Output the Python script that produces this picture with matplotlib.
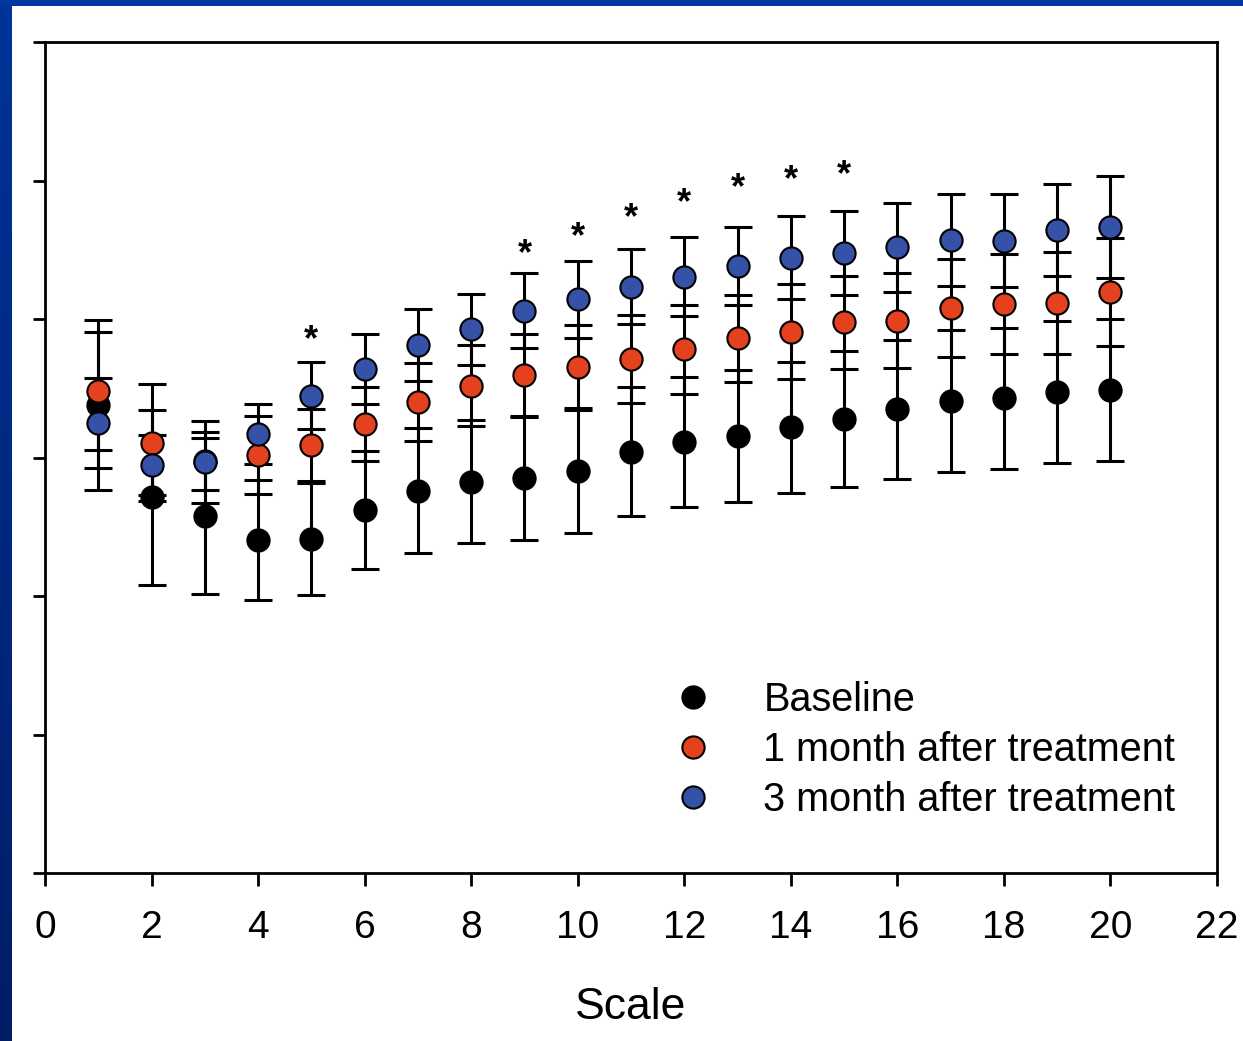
import numpy as np
import matplotlib
matplotlib.use('Agg')
import matplotlib.pyplot as plt
from matplotlib.lines import Line2D

plt.rcParams['font.family'] = ['Liberation Sans', 'DejaVu Sans']

# scale points and group means / SD
scale = np.arange(1, 21)
baseline = [33.79, 27.13, 25.78, 24.04, 24.12, 26.21, 27.60, 28.25, 28.50, 29.05,
            30.42, 31.14, 31.55, 32.17, 32.76, 33.48, 34.10, 34.27, 34.71, 34.87]
baseline_err = [6.14, 6.33, 5.63, 4.33, 4.04, 4.28, 4.51, 4.45, 4.45, 4.52,
                4.64, 4.69, 4.74, 4.75, 4.91, 5.03, 5.13, 5.10, 5.13, 5.10]
month1 = [34.80, 31.07, 29.75, 30.18, 30.90, 32.42, 33.99, 35.18, 35.96, 36.51,
          37.11, 37.81, 38.61, 39.08, 39.76, 39.88, 40.77, 41.08, 41.18, 41.93]
month1_err = [4.26, 4.24, 2.11, 2.82, 2.58, 2.69, 2.82, 2.94, 2.94, 3.05,
              3.18, 3.20, 3.13, 3.44, 3.36, 3.42, 3.54, 3.59, 3.68, 3.90]
month3 = [32.47, 29.46, 29.68, 31.70, 34.46, 36.39, 38.12, 39.26, 40.60, 41.42,
          42.33, 43.05, 43.83, 44.43, 44.79, 45.18, 45.70, 45.65, 46.43, 46.66]
month3_err = [3.25, 2.17, 2.98, 2.17, 2.41, 2.51, 2.60, 2.55, 2.70, 2.79,
              2.72, 2.84, 2.84, 3.01, 3.03, 3.22, 3.30, 3.35, 3.32, 3.68]

# significance marks
sig_x = [5, 9, 10, 11, 12, 13, 14, 15]
sig_y = [38.84, 45.05, 46.28, 47.65, 48.74, 49.82, 50.40, 50.76]

labels = ['Baseline', '1 month after treatment', '3 month after treatment']
colors = ['black', '#e4421e', '#3552a8']

fig = plt.figure(figsize=(12.43, 10.41), dpi=100)
fig.patch.set_facecolor('white')

# slide border: gradient strip on the left, solid strip on top
side = fig.add_axes([0, 0, 12 / 1243, 1])
grad = np.linspace(0, 1, 256).reshape(-1, 1)
side.imshow(grad, aspect='auto', cmap=matplotlib.colors.LinearSegmentedColormap.from_list(
    'side', ['#003399', '#001d66']), extent=[0, 1, 0, 1])
side.axis('off')
top = fig.add_axes([0, 1 - 6 / 1041, 1, 6 / 1041])
top.set_facecolor('#0036a0')
top.set_xticks([])
top.set_yticks([])
for s in top.spines.values():
    s.set_visible(False)

ax = fig.add_axes([45 / 1243, 168 / 1041, 1172 / 1243, 831 / 1041])

series = [(baseline, baseline_err), (month1, month1_err), (month3, month3_err)]
for mean, err in series:
    ax.errorbar(scale, mean, yerr=err, fmt='none', ecolor='black', elinewidth=2.2,
                capsize=10, capthick=2.2, zorder=2)
for (mean, err), c in zip(series, colors):
    ax.plot(scale, mean, 'o', ms=16, mfc=c, mec='black', mew=1.5, zorder=3)

star_fs = 26
for x, y in zip(sig_x, sig_y):
    ax.annotate('*', (x, y), xytext=(0, -0.42 * star_fs), textcoords='offset points',
                ha='center', va='baseline', fontsize=star_fs, fontweight='bold')

ax.set_xlim(0, 22)
ax.set_ylim(0, 60)
ax.set_xticks(range(0, 23, 2))
ax.set_yticks(range(0, 61, 10))
ax.set_yticklabels([])
ax.tick_params(axis='both', direction='out', length=9, width=2, labelsize=28)
ax.tick_params(axis='x', pad=18)
for s in ax.spines.values():
    s.set_linewidth(2)
ax.set_xlabel('Scale', fontsize=32, labelpad=29)

handles = [Line2D([], [], ls='none', marker='o', ms=16, mfc=c, mec='black', mew=1.5)
           for c in colors]
ax.legend(handles, labels, loc='lower right', bbox_to_anchor=(0.978, 0.046),
          frameon=False, fontsize=28.5, handlelength=1.0, handletextpad=1.27,
          labelspacing=0.3, borderaxespad=0)

fig.savefig('out.png', dpi=100)
